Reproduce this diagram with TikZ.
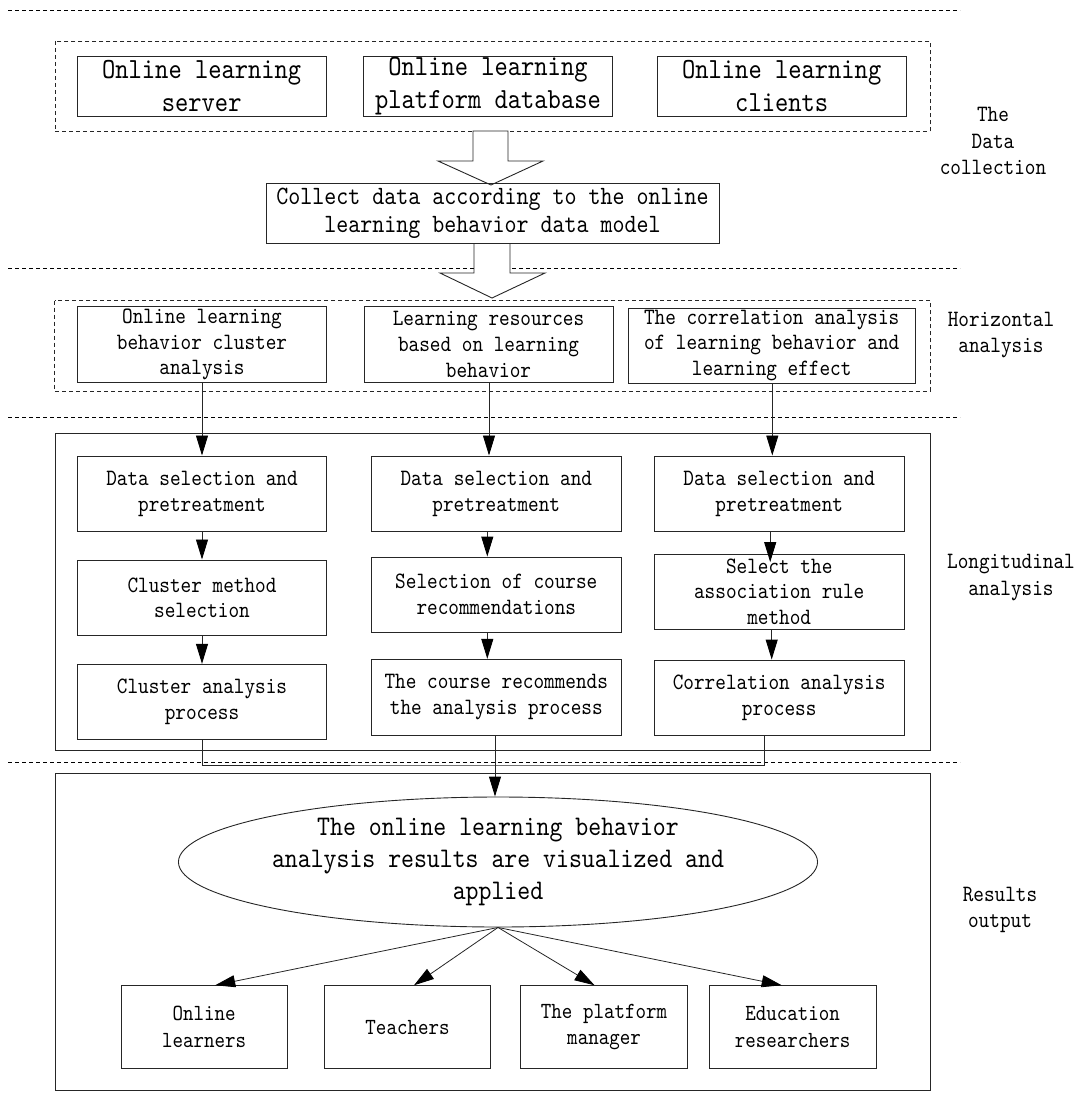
\documentclass[tikz,border=0pt]{standalone}
\usepackage{fontspec}
\setmainfont[FakeStretch=0.866]{lmmono10-regular.otf}
\usetikzlibrary{arrows.meta,shapes.geometric}
\newcommand\fsz[2]{\fontsize{#1}{#2}\selectfont}
\begin{document}
\begin{tikzpicture}[x=1pt,y=-1pt,line width=0.9pt,
  box/.style={draw=black!85,inner sep=0pt,align=center},
  ftop/.style={font=\fsz{29.2}{33}},
  fmid/.style={font=\fsz{26.4}{28.3}},
  fsm/.style={font=\fsz{23.4}{25.7}},
  fell/.style={font=\fsz{28.4}{31.7}},
  fbot/.style={font=\fsz{23.1}{26.7}},
  flab/.style={font=\fsz{23.4}{26.3},align=center,inner sep=0pt},
  sep/.style={draw=black,line width=0.8pt,dash pattern=on 4pt off 3pt},
  dbox/.style={draw=black!85,line width=0.8pt,dash pattern=on 4pt off 3pt},
  arr/.style={draw=black!85,-{Triangle[length=20pt,width=12pt,color=black]}},
  conn/.style={draw=black!85}
]
\useasboundingbox (0,0) rectangle (1075,1105);

% separators
\foreach \yy in {10.3,268,417.7,762.3} \draw[sep] (8,\yy) -- (960,\yy);

% ---------------- data collection
\draw[dbox] (55,41) rectangle (930,131.7);
\node[box,ftop,minimum width=249,minimum height=60] (s1) at (201.7,86) {Online learning\\server};
\node[box,ftop,minimum width=249,minimum height=60] (s2) at (488,86) {Online learning\\platform database};
\node[box,ftop,minimum width=249,minimum height=60] (s3) at (781.7,86) {Online learning\\clients};

\filldraw[fill=white,draw=black!85] (473,131) -- (508,131) -- (508,161) -- (543,161) -- (491,185) -- (438,161) -- (473,161) -- cycle;

\node[box,fmid,minimum width=453,minimum height=60] (c) at (492.5,213) {Collect data according to the online\\learning behavior data model};

\fill[white] (474,244) -- (474,273) -- (440,273) -- (492,298) -- (545,273) -- (510,273) -- (510,244) -- cycle;
\draw[black!85] (474,243.5) -- (474,273) -- (440,273) -- (492,298) -- (545,273) -- (510,273) -- (510,243.5);

\node[flab] (lab1) at (993,141) {The\\Data\\collection};

% ---------------- horizontal analysis
\draw[dbox] (54.5,300.7) rectangle (930.5,391);
\node[box,fsm,minimum width=249.4,minimum height=75.6] (h1) at (202,344.5) {Online learning\\behavior cluster\\analysis};
\node[box,fsm,minimum width=249,minimum height=75.6] (h2) at (488.5,344.5) {Learning resources\\based on learning\\behavior};
\node[box,fsm,minimum width=287.3,minimum height=75] (h3) at (771.7,345.5) {The correlation analysis\\of learning behavior and\\learning effect};
\node[flab] (lab2) at (1001,335) {Horizontal\\analysis};

% ---------------- longitudinal analysis
\draw[black!85] (55,433.3) rectangle (930.5,750);
\node[box,fsm,minimum width=249.4,minimum height=75.7] (l11) at (202,493.8) {Data selection and\\pretreatment};
\node[box,fsm,minimum width=249.4,minimum height=75.7] (l12) at (202,597.8) {Cluster method\\selection};
\node[box,fsm,minimum width=249.4,minimum height=75] (l13) at (202,701.8) {Cluster analysis\\process};

\node[box,fsm,minimum width=249.3,minimum height=75.7] (l21) at (496.3,493.8) {Data selection and\\pretreatment};
\node[box,fsm,minimum width=249.3,minimum height=75] (l22) at (496.3,594.5) {Selection of course\\recommendations};
\node[box,fsm,minimum width=249.3,minimum height=76] (l23) at (496.3,697.3) {The course recommends\\the analysis process};

\node[box,fsm,minimum width=249.7,minimum height=75.7] (l31) at (779.2,493.8) {Data selection and\\pretreatment};
\node[box,fsm,minimum width=249.7,minimum height=75.3] (l32) at (779.2,591.7) {Select the\\association rule\\method};
\node[box,fsm,minimum width=249.7,minimum height=75] (l33) at (779.2,697.5) {Correlation analysis\\process};

\node[flab] (lab3) at (1011,577.5) {Longitudinal\\analysis};

\draw[arr] (h1.south) -- (h1.south |- l11.north);
\draw[arr] ([xshift=0.5pt]h2.south) -- ([xshift=0.5pt]h2.south |- l21.north);
\draw[arr] ([xshift=0.6pt]h3.south) -- ([xshift=0.6pt]h3.south |- l31.north);

\draw[arr] (l11.south) -- (l12.north);
\draw[arr] (l12.south) -- (l13.north);
\draw[arr] ([xshift=-9pt]l21.south) -- ([xshift=-9pt]l21.south |- l22.north);
\draw[arr] ([xshift=-9pt]l22.south) -- ([xshift=-9pt]l22.south |- l23.north);
\draw[arr] ([xshift=-9pt]l31.south) -- ++(0,30);
\draw[arr] ([xshift=-7.5pt]l32.south) -- ([xshift=-7.5pt]l32.south |- l33.north);

% ---------------- results output
\draw[black!85] (55,773.3) rectangle (930.5,1090);
\node[draw=black!85,ellipse,fell,align=center,inner sep=0pt,minimum width=574,minimum height=130] (ell) at (498,862) {The online learning behavior\\analysis results are visualized and\\applied};

\coordinate (jn) at (495,765);
\draw[conn] (l13.south) |- (jn) -| ([xshift=-15pt]l33.south);
\draw[arr] ([xshift=-1.3pt]l23.south) -- ([xshift=-1.3pt]l23.south |- ell.north);

\node[box,fbot,minimum width=166.3,minimum height=82.6] (b1) at (204.2,1027) {Online\\learners};
\node[box,fbot,minimum width=166,minimum height=82.6] (b2) at (407.5,1027) {Teachers};
\node[box,fbot,minimum width=166.8,minimum height=82.6] (b3) at (604,1027) {The platform\\manager};
\node[box,fbot,minimum width=166.7,minimum height=82.6] (b4) at (792.7,1027) {Education\\researchers};

\draw[arr,line width=0.8pt] (ell.south) -- ([xshift=11pt]b1.north);
\draw[arr,line width=0.8pt] (ell.south) -- ([xshift=6.5pt]b2.north);
\draw[arr,line width=0.8pt] (ell.south) -- ([xshift=-9.5pt]b3.north);
\draw[arr,line width=0.8pt] (ell.south) -- ([xshift=-11pt]b4.north);

\node[flab] (lab4) at (1000,909.7) {Results\\output};
\end{tikzpicture}
\end{document}
